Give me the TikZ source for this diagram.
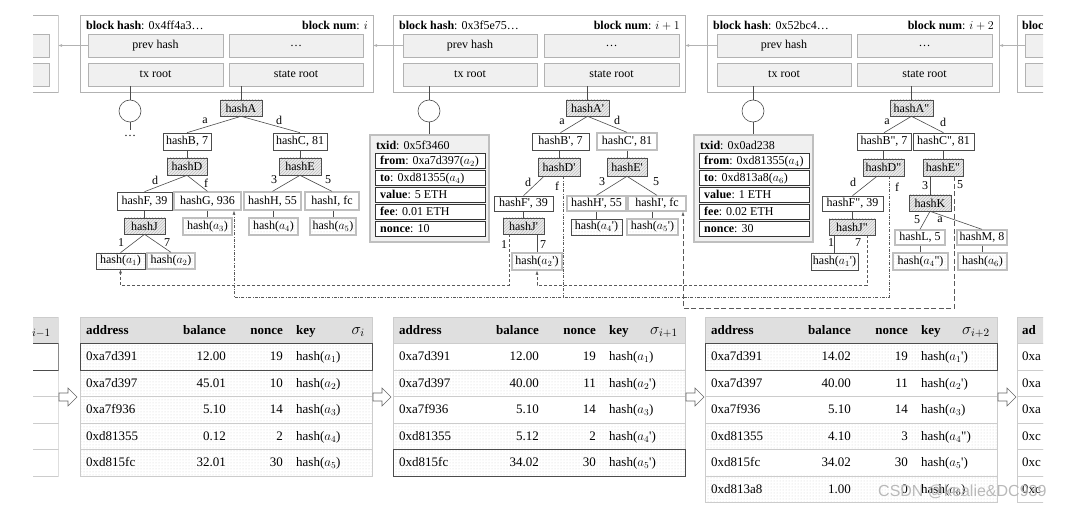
\RequirePackage{fix-cm}
\documentclass[tikz,border=0pt]{standalone}
\usepackage{fontspec}
\setmainfont{Liberation Serif}
\newfontfamily\wmfont{Liberation Sans}
\usetikzlibrary{patterns,arrows.meta}
\newcommand\prm{\textquotesingle}
\newcommand\dprm{\textquotedbl}

\tikzset{
  ft/.style={font=\fontsize{12}{14}\selectfont},
  bbase/.style={ft, inner sep=0pt, draw=black!70, line width=0.6pt},
  blockouter/.style={draw=gray!60, line width=0.8pt, fill=white, inner sep=0pt},
  fbox/.style={bbase, draw=gray!60, fill=gray!12},
  pbox/.style={bbase, fill=white},
  gb/.style={draw=gray!50, line width=1.3pt},
  hatchbox/.style={bbase, preaction={fill=gray!15}, pattern=north east lines, pattern color=gray!50},
  leafbox/.style={bbase, preaction={fill=white}, pattern=dots, pattern color=gray!40},
  elbl/.style={ft, inner sep=0pt},
  tline/.style={draw=black!70, line width=0.6pt},
  chain/.style={draw=gray!60, line width=0.6pt, -{Stealth[length=4pt,width=3pt]}},
  tcirc/.style={circle, draw=black!70, line width=0.6pt, minimum size=22pt, inner sep=0pt},
  txo/.style={draw=gray!50, line width=1.6pt, fill=gray!12, inner sep=0pt},
  txrow/.style={draw=black!80, line width=0.9pt, fill=white, inner sep=0pt},
  txtl/.style={ft, inner sep=0pt},
  thd/.style={fill=gray!25, draw=gray!40, line width=0.6pt, inner sep=0pt},
  trw/.style={fill=white, draw=gray!40, line width=0.6pt, inner sep=0pt},
  trd/.style={draw=gray!40, line width=0.6pt, inner sep=0pt, preaction={fill=white}, pattern=dots, pattern color=gray!35},
  trh/.style={draw=black!70, line width=1pt},
  ttx/.style={font=\fontsize{13}{15}\selectfont, inner sep=0pt},
  tsig/.style={font=\fontsize{16}{18}\selectfont, inner sep=0pt},
  refa/.style={draw=black!65, line width=0.6pt, dash pattern=on 3pt off 2pt},
  refb/.style={draw=black!65, line width=0.6pt, dash pattern=on 3pt off 1.5pt on 0.6pt off 1.5pt},
  refc/.style={draw=black!65, line width=0.6pt, dash pattern=on 5pt off 2.5pt},
  tip/.style={-{Latex[length=4pt,width=3pt]}},
  harrow/.style={draw=black!60, line width=0.6pt, fill=white},
}

\newcommand\bx[7]{\node[#1, minimum width={(#5)-(#3)}, minimum height={(#6)-(#4)}] (#2) at ({((#3)+(#5))/2},{((#4)+(#6))/2}) {#7};}
\newcommand\txr[6]{%
  \bx{txrow}{#1}{#2}{#3}{#4}{#5}{}
  \node[txtl, anchor=base west] (#1t) at ({#2+5},{#3+11.5}) {#6};
}

\newcommand\thead[3]{%
  \node[thd, minimum width=292pt, minimum height=26pt, anchor=north west] (#1) at (#2,317) {};
  \node[ttx, anchor=base west] (#1a) at ({#2+6},334.5) {\textbf{address}};
  \node[ttx, anchor=base east] (#1b) at ({#2+146},334.5) {\textbf{balance}};
  \node[ttx, anchor=base east] (#1n) at ({#2+203},334.5) {\textbf{nonce}};
  \node[ttx, anchor=base west] (#1k) at ({#2+216},334.5) {\textbf{key}};
  \node[tsig, anchor=base east] (#1s) at ({#2+285},334.5) {$#3$};
}
\newcommand\trow[8]{%
  \node[#4, minimum width=292pt, minimum height=26.5pt, anchor=north west] (#1) at (#2,#3) {};
  \node[ttx, anchor=base west] (#1a) at ({#2+6},{#3+17.75}) {#5};
  \node[ttx, anchor=base east] (#1b) at ({#2+146},{#3+17.75}) {#6};
  \node[ttx, anchor=base east] (#1n) at ({#2+203},{#3+17.75}) {#7};
  \node[ttx, anchor=base west] (#1k) at ({#2+216},{#3+17.75}) {#8};
}
\newcommand\harr[3]{%
  \draw[harrow] (#2,{#3-4}) -- ({#2+9},{#3-4}) -- ({#2+9},{#3-9}) -- ({#2+18},#3) -- ({#2+9},{#3+9}) -- ({#2+9},{#3+4}) -- (#2,{#3+4}) -- cycle;
  \coordinate (#1) at (#2,#3);
}

\begin{document}
\begin{tikzpicture}[x=1pt,y=-1pt]
\useasboundingbox (0,0) rectangle (1072,505);

% ---------- partial blocks ----------
\begin{scope}
\clip (33,0) rectangle (58.6,100);
\bx{blockouter}{lb}{-235}{15}{58}{92}{}
\bx{fbox}{lbf1}{-227}{34}{-92}{57}{}
\bx{fbox}{lbf2}{-86}{34}{49}{57}{}
\bx{fbox}{lbf3}{-227}{63}{-92}{86}{}
\bx{fbox}{lbf4}{-86}{63}{49}{86}{}
\end{scope}
\begin{scope}
\clip (1016,0) rectangle (1043,100);
\bx{blockouter}{rb}{1017}{15}{1310}{92}{}
\bx{fbox}{rbp}{1025}{34}{1160}{57}{}
\bx{fbox}{rbf2}{1166}{34}{1300}{57}{}
\bx{fbox}{rbf3}{1025}{63}{1160}{86}{}
\bx{fbox}{rbf4}{1166}{63}{1300}{86}{}
\end{scope}
\node[ft, anchor=base west, inner sep=0pt] (rbh) at (1022,29.5) {\textbf{bloc}};

% ---------- block i ----------
\bx{blockouter}{b1}{80}{15}{373}{92}{}
\bx{fbox}{b1p}{88}{34}{223}{57}{prev hash}
\bx{fbox}{b1d}{229}{34}{363}{57}{…}
\bx{fbox}{b1t}{88}{63}{223}{86}{tx root}
\bx{fbox}{b1s}{229}{63}{363}{86}{state root}
\node[ft, anchor=base west, inner sep=0pt] (b1h) at (86,29.5) {\textbf{block hash}: 0x4ff4a3…};
\node[ft, anchor=base east, inner sep=0pt] (b1n) at (368,29.5) {\textbf{block num}: $i$};

% ---------- block i+1 ----------
\bx{blockouter}{b2}{393}{15}{685}{92}{}
\bx{fbox}{b2p}{403}{34}{537}{57}{prev hash}
\bx{fbox}{b2d}{544}{34}{679}{57}{…}
\bx{fbox}{b2t}{403}{63}{537}{86}{tx root}
\bx{fbox}{b2s}{544}{63}{679}{86}{state root}
\node[ft, anchor=base west, inner sep=0pt] (b2h) at (399,29.5) {\textbf{block hash}: 0x3f5e75…};
\node[ft, anchor=base east, inner sep=0pt] (b2n) at (680,29.5) {\textbf{block num}: $i+1$};

% ---------- block i+2 ----------
\bx{blockouter}{b3}{707}{15}{999}{92}{}
\bx{fbox}{b3p}{717}{34}{851}{57}{prev hash}
\bx{fbox}{b3d}{857}{34}{992}{57}{…}
\bx{fbox}{b3t}{717}{63}{851}{86}{tx root}
\bx{fbox}{b3s}{857}{63}{992}{86}{state root}
\node[ft, anchor=base west, inner sep=0pt] (b3h) at (713,29.5) {\textbf{block hash}: 0x52bc4…};
\node[ft, anchor=base east, inner sep=0pt] (b3n) at (994,29.5) {\textbf{block num}: $i+2$};

% chain links
\draw[chain] (b1p.west) -- (b1p.west -| lb.east);
\draw[chain] (b2p.west) -- (b2p.west -| b1.east);
\draw[chain] (b3p.west) -- (b3p.west -| b2.east);
\draw[chain] (rbp.west) -- (rbp.west -| b3.east);

% ---------- tx roots ----------
\node[tcirc] (c1) at (130,111) {};
\draw[tline] (c1.north |- b1t.south) -- (c1.north);
\node[ft, inner sep=5pt] (e1) at (130,136) {…};
\draw[tline] (c1.south) -- (e1.north);

\node[tcirc] (c2) at (429,111) {};
\draw[tline] (c2.north |- b2t.south) -- (c2.north);
\bx{txo}{tx2}{370}{135}{489}{242}{}
\draw[tline] (c2.south) -- (c2.south |- tx2.north);
\node[txtl, anchor=base west] (tx2id) at (376,149.5) {\textbf{txid}: 0x5f3460};
\txr{t2r1}{375}{153}{485}{168}{\textbf{from}: 0xa7d397($a_2$)}
\txr{t2r2}{375}{170}{485}{185}{\textbf{to}: 0xd81355($a_4$)}
\txr{t2r3}{375}{187}{485}{202}{\textbf{value}: 5 ETH}
\txr{t2r4}{375}{204}{485}{219}{\textbf{fee}: 0.01 ETH}
\txr{t2r5}{375}{221}{485}{236}{\textbf{nonce}: 10}

\node[tcirc] (c3) at (753,111) {};
\draw[tline] (c3.north |- b3t.south) -- (c3.north);
\bx{txo}{tx3}{694}{135}{813}{242}{}
\draw[tline] (c3.south) -- (c3.south |- tx3.north);
\node[txtl, anchor=base west] (tx3id) at (700,149.5) {\textbf{txid}: 0x0ad238};
\txr{t3r1}{699}{153}{809}{168}{\textbf{from}: 0xd81355($a_4$)}
\txr{t3r2}{699}{170}{809}{185}{\textbf{to}: 0xd813a8($a_6$)}
\txr{t3r3}{699}{187}{809}{202}{\textbf{value}: 1 ETH}
\txr{t3r4}{699}{204}{809}{219}{\textbf{fee}: 0.02 ETH}
\txr{t3r5}{699}{221}{809}{236}{\textbf{nonce}: 30}

% ---------- state tree i ----------
\bx{hatchbox}{hA}{220}{100}{262}{116}{hashA}
\bx{pbox}{hB}{163}{133}{211}{150}{hashB, 7}
\bx{pbox}{hC}{273}{133}{327}{150}{hashC, 81}
\bx{hatchbox}{hD}{167}{158}{207}{175}{hashD}
\bx{hatchbox}{hE}{279}{158}{321}{175}{hashE}
\bx{pbox}{hF}{117}{192}{172}{210}{hashF, 39}
\bx{pbox,gb}{hG}{174}{192}{241}{210}{hashG, 936}
\bx{pbox,gb}{hH}{244}{192}{301}{210}{hashH, 55}
\bx{pbox,gb}{hI}{305}{192}{359}{210}{hashI, fc}
\bx{hatchbox}{hJ}{124}{218}{165}{234}{hashJ}
\bx{leafbox,gb}{a3}{183}{218}{232}{235}{hash($a_3$)}
\bx{leafbox,gb}{a4}{249}{218}{298}{235}{hash($a_4$)}
\bx{leafbox,gb}{a5}{310}{218}{356}{235}{hash($a_5$)}
\bx{leafbox}{a1}{96}{253}{145}{269}{hash($a_1$)}
\bx{leafbox,gb}{a2}{147}{253}{195}{269}{hash($a_2$)}
\draw[tline] (hA.north |- b1s.south) -- (hA.north);
\draw[tline] (hA.south) -- (hB.north);
\draw[tline] (hA.south) -- (hC.north);
\draw[tline] (hD.north |- hB.south) -- (hD.north);
\draw[tline] (hE.north |- hC.south) -- (hE.north);
\draw[tline] (hD.south) -- (hF.north);
\draw[tline] (hD.south) -- (hG.north);
\draw[tline] (hE.south) -- (hH.north);
\draw[tline] (hE.south) -- (hI.north);
\draw[tline] (hJ.north |- hF.south) -- (hJ.north);
\draw[tline] (a3.north |- hG.south) -- (a3.north);
\draw[tline] (a4.north |- hH.south) -- (a4.north);
\draw[tline] (a5.north |- hI.south) -- (a5.north);
\draw[tline] (hJ.south) -- (a1.north);
\draw[tline] (hJ.south) -- (a2.north);
\node[elbl] (l1a) at (205,121) {a};
\node[elbl] (l1d) at (279,120) {d};
\node[elbl] (l1dd) at (155,180) {d};
\node[elbl] (l1f) at (206,183) {f};
\node[elbl] (l13) at (274,180) {3};
\node[elbl] (l15) at (328,180) {5};
\node[elbl] (l11) at (121,243) {1};
\node[elbl] (l17) at (167,243) {7};

% ---------- state tree i+1 ----------
\bx{hatchbox}{hAp}{566}{100}{609}{116}{hashA\prm}
\bx{pbox}{hBp}{532}{133}{589}{150}{hashB\prm, 7}
\bx{pbox,gb}{hCp}{597}{133}{657}{150}{hashC\prm, 81}
\bx{hatchbox}{hDp}{538}{158}{580}{176}{hashD\prm}
\bx{hatchbox}{hEp}{607}{158}{647}{176}{hashE\prm}
\bx{pbox}{hFp}{494}{196}{553}{211}{hashF\prm, 39}
\bx{pbox,gb}{hHp}{567}{196}{626}{211}{hashH\prm, 55}
\bx{pbox,gb}{hIp}{628}{196}{686}{211}{hashI\prm, fc}
\bx{hatchbox}{hJp}{503}{218}{544}{234}{hashJ\prm}
\bx{leafbox}{a4p}{571}{219}{622}{235}{hash($a_4$\prm)}
\bx{leafbox,gb}{a5p}{627}{219}{678}{235}{hash($a_5$\prm)}
\bx{leafbox,gb}{a2p}{512}{253}{562}{270}{hash($a_2$\prm)}
\draw[tline] (hAp.north |- b2s.south) -- (hAp.north);
\draw[tline] (hAp.south) -- (hBp.north);
\draw[tline] (hAp.south) -- (hCp.north);
\draw[tline] (hDp.north |- hBp.south) -- (hDp.north);
\draw[tline] (hEp.north |- hCp.south) -- (hEp.north);
\draw[tline] ([xshift=-15pt]hDp.south) -- (hFp.north);
\draw[tline] (hEp.south) -- (hHp.north);
\draw[tline] (hEp.south) -- (hIp.north);
\draw[tline] (hJp.north |- hFp.south) -- (hJp.north);
\draw[tline] (a4p.north |- hHp.south) -- (a4p.north);
\draw[tline] (a5p.north |- hIp.south) -- (a5p.north);
\draw[tline] (a2p.north |- hJp.south) -- (a2p.north);
\node[elbl] (l2a) at (562,122) {a};
\node[elbl] (l2d) at (617,120) {d};
\node[elbl] (l2dd) at (528,182) {d};
\node[elbl] (l2f) at (557,186) {f};
\node[elbl] (l23) at (602,182) {3};
\node[elbl] (l25) at (656,182) {5};
\node[elbl] (l21) at (504,245) {1};
\node[elbl] (l27) at (543,245) {7};

% ---------- state tree i+2 ----------
\bx{hatchbox}{hApp}{890}{100}{933}{116}{hashA\dprm}
\bx{pbox}{hBpp}{857}{133}{911}{150}{hashB\dprm, 7}
\bx{pbox}{hCpp}{913}{133}{974}{150}{hashC\dprm, 81}
\bx{hatchbox}{hDpp}{863}{159}{904}{176}{hashD\dprm}
\bx{hatchbox}{hEpp}{923}{159}{963}{176}{hashE\dprm}
\bx{pbox}{hFpp}{822}{196}{883}{211}{hashF\dprm, 39}
\bx{hatchbox}{hK}{909}{195}{951}{211}{hashK}
\bx{hatchbox}{hJpp}{829}{219}{875}{235}{hashJ\dprm}
\bx{pbox,gb}{hL}{895}{230}{945}{245}{hashL, 5}
\bx{pbox,gb}{hM}{957}{230}{1007}{245}{hashM, 8}
\bx{leafbox}{a1pp}{811}{253}{858}{270}{hash($a_1$\prm)}
\bx{leafbox,gb}{a4pp}{893}{253}{948}{270}{hash($a_4$\dprm)}
\bx{leafbox,gb}{a6}{958}{253}{1007}{270}{hash($a_6$)}
\draw[tline] (hApp.north |- b3s.south) -- (hApp.north);
\draw[tline] (hApp.south) -- (hBpp.north);
\draw[tline] (hApp.south) -- (hCpp.north);
\draw[tline] (hDpp.north |- hBpp.south) -- (hDpp.north);
\draw[tline] (hEpp.north |- hCpp.south) -- (hEpp.north);
\draw[tline] ([xshift=-6.5pt]hDpp.south) -- (hFpp.north);
\draw[tline] (hK.north |- hEpp.south) -- (hK.north);
\draw[tline] (hJpp.north |- hFpp.south) -- (hJpp.north);
\draw[tline] (hK.south) -- (hL.north);
\draw[tline] (hK.south) -- (hM.north);
\draw[tline] (a4pp.north |- hL.south) -- (a4pp.north);
\draw[tline] (a6.north |- hM.south) -- (a6.north);
\draw[tline] (a1pp.north |- hJpp.south) -- (a1pp.north);
\node[elbl] (l3a) at (887,122) {a};
\node[elbl] (l3d) at (943,122) {d};
\node[elbl] (l3dd) at (853,182) {d};
\node[elbl] (l3f) at (897,187) {f};
\node[elbl] (l33) at (925,186) {3};
\node[elbl] (l35) at (960,185) {5};
\node[elbl] (l3k5) at (917,220) {5};
\node[elbl] (l3ka) at (940,220) {a};
\node[elbl] (l31) at (831,243) {1};
\node[elbl] (l37) at (858,243) {7};

% ---------- cross references ----------
\draw[refa, tip] ([xshift=-14.5pt]hJp.south) -- ++(0,51) -| (a1.south);
\draw[refb] ([xshift=4pt]hDp.south) -- ++(0,121);
\draw[refb, tip] ([xshift=5.5pt]hDpp.south) -- ++(0,121) -| ([xshift=26.5pt]hG.south);
\draw[refa, tip] ([xshift=15pt]hJpp.south) -- ++(0,50) -| (a2p.south);
\draw[refc, tip] ([xshift=11pt]hEpp.south) -- ++(0,132) -| ([xshift=26pt]hIp.south);

% ---------- state tables ----------
\begin{scope}
\clip (33,310) rectangle (58.6,480);
\node[thd, minimum width=292pt, minimum height=26pt, anchor=north west] (lt) at (-234,317) {};
\node[trw, minimum width=292pt, minimum height=26.5pt, anchor=north west] (ltr2) at (-234,369.5) {};
\node[trw, minimum width=292pt, minimum height=26.5pt, anchor=north west] (ltr3) at (-234,396) {};
\node[trw, minimum width=292pt, minimum height=26.5pt, anchor=north west] (ltr4) at (-234,422.5) {};
\node[trw, minimum width=292pt, minimum height=26.5pt, anchor=north west] (ltr5) at (-234,449) {};
\node[trw,trh, minimum width=292pt, minimum height=26.5pt, anchor=north west] (ltr1) at (-234,343) {};
\end{scope}
\node[tsig, anchor=base east] (lts) at (51,334.5) {${}_{i-1}$};

\thead{ta}{80}{\sigma_i}
\trow{tar2}{80}{369.5}{trd}{0xa7d397}{45.01}{10}{hash($a_2$)}
\trow{tar3}{80}{396}{trd}{0xa7f936}{5.10}{14}{hash($a_3$)}
\trow{tar4}{80}{422.5}{trd}{0xd81355}{0.12}{2}{hash($a_4$)}
\trow{tar5}{80}{449}{trd}{0xd815fc}{32.01}{30}{hash($a_5$)}
\trow{tar1}{80}{343}{trd,trh}{0xa7d391}{12.00}{19}{hash($a_1$)}

\thead{tb}{393}{\sigma_{i+1}}
\trow{tbr1}{393}{343}{trw}{0xa7d391}{12.00}{19}{hash($a_1$)}
\trow{tbr2}{393}{369.5}{trd}{0xa7d397}{40.00}{11}{hash($a_2$\prm)}
\trow{tbr3}{393}{396}{trw}{0xa7f936}{5.10}{14}{hash($a_3$)}
\trow{tbr4}{393}{422.5}{trd}{0xd81355}{5.12}{2}{hash($a_4$\prm)}
\trow{tbr5}{393}{449}{trd,trh}{0xd815fc}{34.02}{30}{hash($a_5$\prm)}

\thead{tc}{705}{\sigma_{i+2}}
\trow{tcr2}{705}{369.5}{trw}{0xa7d397}{40.00}{11}{hash($a_2$\prm)}
\trow{tcr3}{705}{396}{trw}{0xa7f936}{5.10}{14}{hash($a_3$)}
\trow{tcr4}{705}{422.5}{trd}{0xd81355}{4.10}{3}{hash($a_4$\dprm)}
\trow{tcr5}{705}{449}{trw}{0xd815fc}{34.02}{30}{hash($a_5$\prm)}
\trow{tcr6}{705}{475.5}{trd}{0xd813a8}{1.00}{0}{hash($a_6$)}
\trow{tcr1}{705}{343}{trd,trh}{0xa7d391}{14.02}{19}{hash($a_1$\prm)}

\begin{scope}
\clip (1016,310) rectangle (1043,505);
\node[thd, minimum width=292pt, minimum height=26pt, anchor=north west] (rt) at (1017,317) {};
\node[trw, minimum width=292pt, minimum height=26.5pt, anchor=north west] (rtr1) at (1017,343) {};
\node[trw, minimum width=292pt, minimum height=26.5pt, anchor=north west] (rtr2) at (1017,369.5) {};
\node[trw, minimum width=292pt, minimum height=26.5pt, anchor=north west] (rtr3) at (1017,396) {};
\node[trw, minimum width=292pt, minimum height=26.5pt, anchor=north west] (rtr4) at (1017,422.5) {};
\node[trw, minimum width=292pt, minimum height=26.5pt, anchor=north west] (rtr5) at (1017,449) {};
\node[trw, minimum width=292pt, minimum height=26.5pt, anchor=north west] (rtr6) at (1017,475.5) {};
\end{scope}
\node[ttx, anchor=base west] (rta) at (1022,334.5) {\textbf{ad}};
\node[ttx, anchor=base west] (rtr1a) at (1022,360.75) {0xa};
\node[ttx, anchor=base west] (rtr2a) at (1022,387.25) {0xa};
\node[ttx, anchor=base west] (rtr3a) at (1022,413.75) {0xa};
\node[ttx, anchor=base west] (rtr4a) at (1022,440.25) {0xc};
\node[ttx, anchor=base west] (rtr5a) at (1022,466.75) {0xc};
\node[ttx, anchor=base west] (rtr6a) at (1022,493.25) {0xc};

% transition arrows
\harr{ar0}{59}{397}
\harr{ar1}{373}{397}
\harr{ar2}{686}{397}
\harr{ar3}{998}{397}

% watermark
\node[font=\wmfont\fontsize{16}{18}\selectfont, text=gray!55, anchor=west, inner sep=0pt] (wm) at (878,492) {CSDN @kealie\&DC939};
\end{tikzpicture}
\end{document}
